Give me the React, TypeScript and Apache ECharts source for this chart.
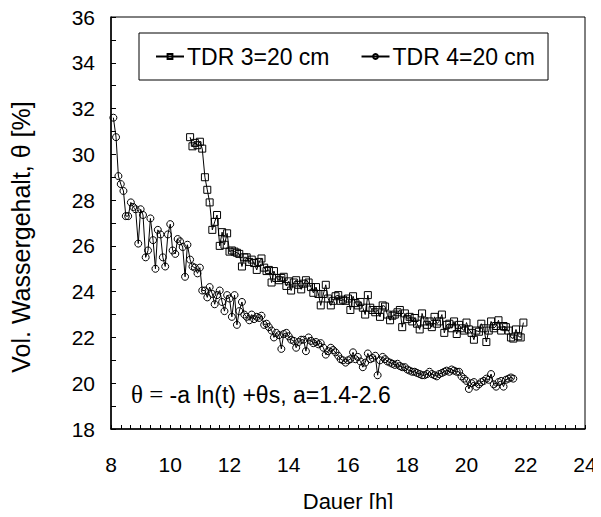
import React, { useEffect, useRef } from "react";
import * as echarts from "echarts";

const tdr3Time = [10.67,10.75,10.83,10.92,11.0,11.08,11.17,11.25,11.33,11.42,11.5,11.58,11.67,11.75,11.83,11.92,12.0,12.08,12.17,12.25,12.33,12.42,12.5,12.58,12.67,12.75,12.83,12.92,13.0,13.08,13.17,13.25,13.33,13.42,13.5,13.58,13.67,13.75,13.83,13.92,14.0,14.08,14.17,14.25,14.33,14.42,14.5,14.58,14.67,14.75,14.83,14.92,15.0,15.08,15.17,15.25,15.33,15.42,15.5,15.58,15.67,15.75,15.83,15.92,16.0,16.08,16.17,16.25,16.33,16.42,16.5,16.58,16.67,16.75,16.83,16.92,17.0,17.08,17.17,17.25,17.33,17.42,17.5,17.58,17.67,17.75,17.83,17.92,18.0,18.08,18.17,18.25,18.33,18.42,18.5,18.58,18.67,18.75,18.83,18.92,19.0,19.08,19.17,19.25,19.33,19.42,19.5,19.58,19.67,19.75,19.83,19.92,20.0,20.08,20.17,20.25,20.33,20.42,20.5,20.58,20.67,20.75,20.83,20.92,21.0,21.08,21.17,21.25,21.33,21.42,21.5,21.58,21.67,21.75,21.83,21.92];
const tdr3Value = [30.75,30.35,30.5,30.4,30.55,30.25,29.0,28.45,27.9,26.7,27.05,27.35,26.0,26.6,26.05,26.55,25.75,25.8,25.75,25.7,25.65,25.1,25.5,25.5,25.3,25.4,25.25,24.95,25.3,25.45,25.05,24.9,24.95,24.4,24.9,24.6,24.5,24.6,24.65,24.25,24.45,24.05,24.4,24.5,24.3,24.1,24.35,24.5,24.4,24.2,23.95,24.2,23.9,23.4,23.9,24.3,23.7,23.4,23.6,23.8,23.85,23.6,23.65,23.6,23.7,23.2,23.8,23.5,23.4,23.55,23.3,23.0,23.85,23.3,23.2,23.1,23.2,22.9,23.4,23.35,23.0,22.75,22.95,23.0,23.1,23.2,22.45,23.05,22.8,22.9,22.7,22.85,22.6,22.35,23.05,22.7,22.55,22.7,22.45,22.9,22.6,22.7,23.0,22.2,22.55,22.6,22.4,22.7,22.15,22.55,22.4,22.3,22.65,22.35,22.2,21.9,22.3,22.25,22.6,22.4,21.8,22.3,22.7,22.4,22.5,22.75,22.3,22.5,22.45,22.3,22.0,21.95,22.35,22.05,22.0,22.65];

const tdr4Time = [8.08,8.17,8.25,8.33,8.42,8.5,8.58,8.67,8.75,8.83,8.92,9.0,9.08,9.17,9.25,9.33,9.42,9.5,9.58,9.67,9.75,9.83,9.92,10.0,10.08,10.17,10.25,10.33,10.42,10.5,10.58,10.67,10.75,10.83,10.92,11.0,11.08,11.17,11.25,11.33,11.42,11.5,11.58,11.67,11.75,11.83,11.92,12.0,12.08,12.17,12.25,12.33,12.42,12.5,12.58,12.67,12.75,12.83,12.92,13.0,13.08,13.17,13.25,13.33,13.42,13.5,13.58,13.67,13.75,13.83,13.92,14.0,14.08,14.17,14.25,14.33,14.42,14.5,14.58,14.67,14.75,14.83,14.92,15.0,15.08,15.17,15.25,15.33,15.42,15.5,15.58,15.67,15.75,15.83,15.92,16.0,16.08,16.17,16.25,16.33,16.42,16.5,16.58,16.67,16.75,16.83,16.92,17.0,17.08,17.17,17.25,17.33,17.42,17.5,17.58,17.67,17.75,17.83,17.92,18.0,18.08,18.17,18.25,18.33,18.42,18.5,18.58,18.67,18.75,18.83,18.92,19.0,19.08,19.17,19.25,19.33,19.42,19.5,19.58,19.67,19.75,19.83,19.92,20.0,20.08,20.17,20.25,20.33,20.42,20.5,20.58,20.67,20.75,20.83,20.92,21.0,21.08,21.17,21.25,21.33,21.42,21.5,21.58];
const tdr4Value = [31.6,30.75,29.05,28.7,28.4,27.3,27.3,27.9,27.7,27.6,26.1,27.6,27.35,25.5,25.8,27.2,26.25,25.0,26.7,26.5,25.5,25.1,26.5,26.95,25.8,25.65,26.3,26.2,25.95,24.65,26.05,25.4,25.1,25.05,24.8,25.05,24.05,24.05,23.75,24.2,23.9,23.45,23.85,24.05,23.55,23.15,23.85,23.7,22.9,23.85,22.55,23.15,23.55,23.0,22.9,22.75,23.0,22.8,22.9,22.85,22.95,22.55,22.6,22.45,22.3,22.0,22.2,22.1,21.5,22.15,22.2,22.05,21.9,21.85,21.55,21.8,21.9,21.9,21.4,22.0,21.85,21.75,21.8,21.7,21.75,21.55,21.25,21.4,21.55,21.45,21.35,21.2,21.05,21.0,20.9,21.0,21.05,21.35,21.05,21.15,20.95,20.7,20.9,21.3,21.05,21.1,21.2,20.35,21.0,21.15,21.05,20.95,20.9,20.85,20.8,20.85,20.75,20.7,20.7,20.6,20.55,20.5,20.5,20.45,20.4,20.35,20.35,20.4,20.5,20.4,20.35,20.3,20.4,20.45,20.5,20.55,20.5,20.6,20.55,20.5,20.5,20.3,20.2,20.1,19.75,20.0,20.05,19.85,19.95,20.05,20.1,20.2,20.15,20.4,19.95,19.85,20.05,20.1,19.85,20.15,20.2,20.25,20.2];

const seriesNames = ["TDR 3=20 cm", "TDR 4=20 cm"];
const xMin = 8, xMax = 24, xStep = 2;
const yMin = 18, yMax = 36, yStep = 2;
const xTitle = "Dauer [h]";
const yTitle = "Vol. Wassergehalt, θ [%]";
const note = "-a ln(t) +θs, a=1.4-2.6";

const FONT = "'Liberation Sans', Arial, sans-serif";

export default function App() {
  const ref = useRef<HTMLDivElement>(null);
  useEffect(() => {
    if (!ref.current) return;
    const chart = echarts.init(ref.current, null, { renderer: "svg" });
    const mk = (t: number[], v: number[]) => t.map((x, i) => [x, v[i]]);
    chart.setOption({
      animation: false,
      backgroundColor: "#fff",
      grid: {
        left: 111, right: 16, top: 17, bottom: 85,
        show: true, borderColor: "#000", borderWidth: 1, backgroundColor: "transparent",
      },
      legend: {
        left: 139, top: 33,
        padding: [12, 13, 12, 16],
        borderColor: "#000", borderWidth: 1, borderRadius: 0,
        itemWidth: 28, itemHeight: 6, itemGap: 31,
        textStyle: { fontFamily: FONT, fontSize: 23, color: "#000", padding: [0, 0, 0, -2] },
        data: seriesNames,
      },
      xAxis: {
        type: "value", min: xMin, max: xMax, interval: xStep,
        name: xTitle, nameLocation: "middle", nameGap: 61,
        nameTextStyle: { fontFamily: FONT, fontSize: 22, color: "#000" },
        axisLine: { lineStyle: { color: "#000", width: 1.5 } },
        axisTick: { inside: true, length: 4, lineStyle: { color: "#000" } },
        minorTick: { show: true, splitNumber: 6, length: 4, lineStyle: { color: "#000" } },
        axisLabel: { fontFamily: FONT, fontSize: 21, color: "#000", margin: 25 },
        splitLine: { show: false },
      },
      yAxis: {
        type: "value", min: yMin, max: yMax, interval: yStep,
        axisLine: { lineStyle: { color: "#000", width: 1.5 } },
        axisTick: { inside: true, length: 5, lineStyle: { color: "#000" } },
        minorTick: { show: true, splitNumber: 2, length: 5, lineStyle: { color: "#000" } },
        axisLabel: { fontFamily: FONT, fontSize: 21, color: "#000", margin: 16 },
        splitLine: { show: false },
      },
      graphic: [
        {
          type: "text", x: 21, y: 237, rotation: Math.PI / 2,
          style: {
            text: yTitle, font: `25px ${FONT}`, fill: "#000",
            align: "center", verticalAlign: "middle",
          },
        },
        {
          type: "text", left: 131, top: 382,
          style: {
            text: "{s|θ = }" + note,
            font: `23px ${FONT}`,
            fill: "#000",
            rich: {
              s: { fontFamily: "'Liberation Serif', 'Times New Roman', serif", fontSize: 25, fill: "#000" },
            },
          },
        },
      ],
      series: [
        {
          name: seriesNames[0], type: "line", data: mk(tdr3Time, tdr3Value),
          symbol: "rect", symbolSize: 7, showAllSymbol: true,
          lineStyle: { color: "#000", width: 1 },
          itemStyle: { color: "rgba(0,0,0,0)", borderColor: "#000", borderWidth: 1 },
        },
        {
          name: seriesNames[1], type: "line", data: mk(tdr4Time, tdr4Value),
          symbol: "circle", symbolSize: 7, showAllSymbol: true,
          lineStyle: { color: "#000", width: 1 },
          itemStyle: { color: "rgba(0,0,0,0)", borderColor: "#000", borderWidth: 1 },
        },
      ],
    });
    return () => chart.dispose();
  }, []);
  return <div ref={ref} style={{ width: 601, height: 517, margin: -8 }} />;
}
